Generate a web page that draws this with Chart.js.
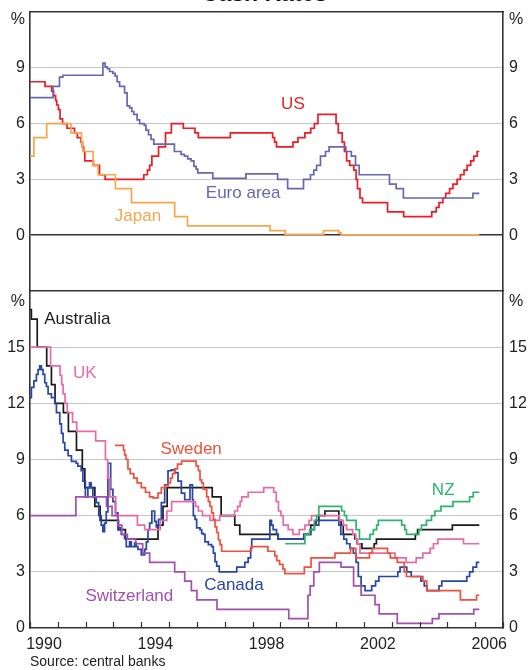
<!DOCTYPE html>
<html>
<head>
<meta charset="utf-8">
<script src="https://cdn.jsdelivr.net/npm/chart.js@4"></script>
<style>
  body { margin: 0; background: #fff; }
  #wrap { position: relative; width: 529px; height: 670px; overflow: hidden; background: #fff; font-family: "Liberation Sans", Arial, sans-serif; }
  canvas { position: absolute; left: 0; }
  .title { position: absolute; left: 0; width: 529px; top: -18px; text-align: center; font-weight: bold; font-size: 23px; line-height: 23px; color: #111; }
  .source { position: absolute; left: 30px; top: 654px; font-size: 14px; line-height: 14px; color: #222; }
</style>
</head>
<body>
<div id="wrap">
  <div class="title">Cash Rates</div>
  <canvas id="topChart" width="529" height="291" style="top:0"></canvas>
  <canvas id="bottomChart" width="529" height="385" style="top:285px"></canvas>
  <div class="source">Source: central banks</div>
</div>
<script>
// Policy rate change points: decimal year when the new rate starts, rate in %
const usDates = [1990.0, 1990.54, 1990.78, 1990.85, 1990.92, 1990.96, 1991.02, 1991.08, 1991.17, 1991.33, 1991.6, 1991.7, 1991.83, 1991.88, 1991.93, 1991.97, 1992.28, 1992.5, 1992.7, 1994.09, 1994.22, 1994.3, 1994.38, 1994.62, 1994.87, 1995.08, 1995.51, 1995.93, 1996.05, 1997.2, 1998.72, 1998.79, 1998.86, 1999.45, 1999.63, 1999.88, 2000.09, 2000.22, 2000.35, 2001.0, 2001.08, 2001.22, 2001.3, 2001.38, 2001.49, 2001.64, 2001.72, 2001.77, 2001.86, 2001.95, 2002.85, 2003.43, 2004.44, 2004.6, 2004.7, 2004.84, 2004.94, 2005.08, 2005.2, 2005.35, 2005.47, 2005.6, 2005.71, 2005.84, 2005.95, 2006.07, 2006.15];
const usRates = [8.25, 8.0, 7.75, 7.5, 7.25, 7.0, 6.75, 6.25, 6.0, 5.75, 5.5, 5.25, 5.0, 4.75, 4.5, 4.0, 3.75, 3.25, 3.0, 3.25, 3.5, 3.75, 4.25, 4.75, 5.5, 6.0, 5.75, 5.5, 5.25, 5.5, 5.25, 5.0, 4.75, 5.0, 5.25, 5.5, 5.75, 6.0, 6.5, 6.0, 5.5, 5.0, 4.5, 4.0, 3.75, 3.5, 3.0, 2.5, 2.0, 1.75, 1.25, 1.0, 1.25, 1.5, 1.75, 2.0, 2.25, 2.5, 2.75, 3.0, 3.25, 3.5, 3.75, 4.0, 4.25, 4.5, 4.5];

const euroDates = [1990.0, 1990.83, 1991.06, 1991.18, 1992.62, 1992.7, 1992.78, 1992.86, 1992.98, 1993.06, 1993.13, 1993.22, 1993.4, 1993.49, 1993.58, 1993.66, 1993.73, 1993.85, 1993.94, 1994.11, 1994.17, 1994.26, 1994.35, 1994.45, 1995.19, 1995.43, 1995.55, 1995.67, 1995.79, 1995.89, 1995.97, 1996.03, 1996.57, 1997.76, 1998.9, 1999.26, 1999.83, 2000.08, 2000.2, 2000.3, 2000.44, 2000.62, 2000.75, 2001.35, 2001.55, 2001.7, 2001.83, 2002.92, 2003.16, 2003.42, 2005.92, 2006.15];
const euroRates = [7.4, 8.0, 8.5, 8.6, 9.25, 9.05, 8.95, 8.8, 8.7, 8.55, 8.25, 8.0, 7.65, 6.95, 6.85, 6.65, 6.5, 6.2, 6.0, 5.9, 5.65, 5.4, 5.15, 4.9, 4.5, 4.35, 4.25, 4.1, 4.0, 3.7, 3.55, 3.35, 3.05, 3.3, 3.0, 2.5, 3.0, 3.25, 3.5, 3.75, 4.25, 4.5, 4.75, 4.5, 4.25, 3.75, 3.25, 2.75, 2.5, 2.0, 2.25, 2.25];

const japanDates = [1990.0, 1990.14, 1990.6, 1991.47, 1991.85, 1991.9, 1992.27, 1992.45, 1993.07, 1993.65, 1995.2, 1995.66, 1998.63, 1999.17, 2000.55, 2001.1, 2001.18, 2006.15];
const japanRates = [4.25, 5.25, 6.0, 5.5, 5.0, 4.5, 3.75, 3.25, 2.5, 1.75, 1.0, 0.5, 0.25, 0.04, 0.25, 0.12, 0.02, 0.02];

const ausDates = [1990.0, 1990.05, 1990.26, 1990.6, 1990.77, 1990.9, 1991.2, 1991.38, 1991.67, 1991.88, 1991.97, 1992.33, 1992.52, 1993.18, 1993.43, 1994.6, 1994.78, 1994.93, 1996.55, 1996.87, 1997.36, 1997.54, 1998.92, 1999.84, 2000.09, 2000.28, 2000.38, 2000.6, 2001.1, 2001.18, 2001.26, 2001.68, 2001.76, 2001.93, 2002.37, 2002.45, 2003.85, 2003.93, 2005.18, 2006.15];
const ausRates = [17.0, 16.5, 15.0, 14.0, 13.0, 12.0, 11.5, 10.5, 9.5, 8.5, 7.5, 6.5, 5.75, 5.25, 4.75, 5.5, 6.5, 7.5, 7.0, 6.0, 5.5, 5.0, 4.75, 5.0, 5.5, 5.75, 6.0, 6.25, 5.75, 5.5, 5.0, 4.75, 4.5, 4.25, 4.5, 4.75, 5.0, 5.25, 5.5, 5.5];

const ukDates = [1990.0, 1990.74, 1991.08, 1991.14, 1991.19, 1991.26, 1991.34, 1991.53, 1991.68, 1992.36, 1992.71, 1992.79, 1992.87, 1993.08, 1993.86, 1994.12, 1994.68, 1994.92, 1995.09, 1995.95, 1996.05, 1996.2, 1996.47, 1996.82, 1997.35, 1997.46, 1997.55, 1997.61, 1997.84, 1998.4, 1998.76, 1998.85, 1998.93, 1999.02, 1999.1, 1999.28, 1999.45, 1999.68, 1999.88, 2000.03, 2000.12, 2001.12, 2001.26, 2001.38, 2001.6, 2001.71, 2001.77, 2001.86, 2003.12, 2003.52, 2003.88, 2004.12, 2004.38, 2004.5, 2004.66, 2005.58, 2006.15];
const ukRates = [15.0, 14.0, 13.5, 13.0, 12.5, 12.0, 11.5, 11.0, 10.5, 10.0, 9.0, 8.0, 7.0, 6.0, 5.5, 5.25, 5.75, 6.25, 6.75, 6.5, 6.25, 6.0, 5.75, 6.0, 6.25, 6.5, 6.75, 7.0, 7.25, 7.5, 7.25, 6.75, 6.25, 6.0, 5.5, 5.25, 5.0, 5.25, 5.5, 5.75, 6.0, 5.75, 5.5, 5.25, 5.0, 4.75, 4.5, 4.0, 3.75, 3.5, 3.75, 4.0, 4.25, 4.5, 4.75, 4.5, 4.5];

const swedenDates = [1993.05, 1993.36, 1993.4, 1993.45, 1993.52, 1993.6, 1993.73, 1993.85, 1994.0, 1994.15, 1994.3, 1994.42, 1994.6, 1994.72, 1994.85, 1994.97, 1995.05, 1995.12, 1995.2, 1995.3, 1995.45, 1995.97, 1996.05, 1996.11, 1996.17, 1996.23, 1996.35, 1996.41, 1996.47, 1996.53, 1996.59, 1996.65, 1996.71, 1996.77, 1996.83, 1996.89, 1997.95, 1998.55, 1998.8, 1998.87, 1998.97, 1999.09, 1999.16, 1999.86, 2000.1, 2000.96, 2001.52, 2001.71, 2002.2, 2002.3, 2002.85, 2002.95, 2003.2, 2003.45, 2003.53, 2004.12, 2004.26, 2005.47, 2006.05, 2006.15];
const swedenRates = [9.75, 9.5, 9.25, 9.0, 8.5, 8.25, 8.0, 7.75, 7.5, 7.25, 7.0, 6.95, 7.2, 7.5, 7.6, 7.75, 8.0, 8.25, 8.5, 8.75, 8.91, 8.66, 8.41, 7.91, 7.75, 7.4, 7.0, 6.75, 6.5, 6.15, 5.8, 5.4, 5.1, 4.7, 4.45, 4.1, 4.35, 4.1, 3.85, 3.6, 3.4, 3.15, 2.9, 3.25, 3.75, 4.0, 4.25, 3.75, 4.0, 4.25, 4.0, 3.75, 3.5, 3.0, 2.75, 2.5, 2.0, 1.5, 1.75, 1.75];

const canadaDates = [1990.0, 1990.05, 1990.14, 1990.23, 1990.29, 1990.35, 1990.41, 1990.47, 1990.53, 1990.59, 1990.65, 1990.77, 1990.89, 1990.95, 1991.07, 1991.13, 1991.19, 1991.25, 1991.37, 1991.49, 1991.66, 1991.72, 1991.84, 1991.9, 1991.99, 1992.08, 1992.14, 1992.2, 1992.26, 1992.38, 1992.47, 1992.56, 1992.62, 1992.68, 1992.74, 1992.8, 1992.9, 1992.98, 1993.07, 1993.16, 1993.22, 1993.28, 1993.4, 1993.46, 1993.58, 1993.64, 1993.76, 1993.82, 1993.88, 1994.0, 1994.12, 1994.18, 1994.24, 1994.3, 1994.38, 1994.48, 1994.54, 1994.62, 1994.72, 1994.84, 1994.96, 1995.08, 1995.2, 1995.32, 1995.44, 1995.56, 1995.75, 1995.84, 1995.87, 1995.93, 1995.99, 1996.11, 1996.17, 1996.23, 1996.29, 1996.41, 1996.53, 1996.59, 1996.65, 1996.71, 1996.8, 1997.43, 1997.72, 1997.84, 1997.93, 1997.97, 1998.62, 1998.68, 1998.74, 1998.86, 1998.92, 1999.85, 2000.08, 2000.22, 2000.38, 2001.1, 2001.17, 2001.28, 2001.38, 2001.5, 2001.62, 2001.72, 2001.8, 2001.9, 2002.04, 2002.28, 2002.42, 2002.54, 2003.22, 2003.3, 2003.54, 2003.7, 2004.05, 2004.17, 2004.27, 2004.7, 2004.8, 2005.7, 2005.8, 2005.92, 2006.05, 2006.15];
const canadaRates = [12.3, 12.85, 13.2, 13.55, 13.8, 14.0, 13.8, 13.55, 13.1, 12.9, 12.5, 12.3, 12.0, 11.5, 10.9, 10.4, 9.9, 9.5, 9.2, 8.9, 8.8, 8.65, 8.4, 7.85, 7.0, 7.5, 7.75, 7.5, 7.0, 6.7, 6.0, 5.5, 5.15, 5.6, 6.2, 8.8, 7.4, 6.75, 6.15, 5.25, 5.35, 5.0, 4.8, 4.35, 4.6, 4.35, 4.55, 4.35, 4.2, 3.9, 4.2, 4.6, 5.25, 5.6, 6.25, 5.7, 5.4, 5.8, 6.7, 7.65, 8.4, 8.45, 8.3, 7.85, 7.2, 6.85, 7.65, 6.85, 6.0, 5.8, 5.35, 5.25, 5.05, 5.0, 4.6, 4.45, 4.35, 4.0, 3.55, 3.3, 3.0, 3.25, 3.5, 3.75, 4.25, 4.75, 5.75, 5.5, 5.25, 5.0, 4.75, 5.0, 5.25, 5.5, 5.75, 5.5, 5.0, 4.75, 4.5, 4.25, 4.0, 3.5, 2.75, 2.25, 2.0, 2.25, 2.5, 2.75, 3.0, 3.25, 3.0, 2.75, 2.5, 2.25, 2.0, 2.25, 2.5, 2.75, 3.0, 3.25, 3.5, 3.5];

const swissDates = [1990.0, 1991.65, 1992.75, 1992.95, 1993.15, 1993.3, 1993.5, 1993.8, 1994.05, 1994.3, 1995.2, 1995.56, 1995.8, 1996.0, 1996.72, 1999.3, 1999.99, 2000.07, 2000.2, 2000.4, 2001.18, 2001.63, 2001.9, 2002.4, 2002.55, 2003.2, 2004.46, 2004.7, 2005.95, 2006.15];
const swissRates = [6.0, 7.0, 6.5, 6.0, 5.5, 5.0, 4.75, 4.5, 4.0, 3.5, 3.0, 2.5, 2.0, 1.5, 1.0, 0.5, 1.75, 2.25, 3.0, 3.5, 3.25, 2.25, 1.75, 1.25, 0.75, 0.25, 0.5, 0.75, 1.0, 1.0];

const nzDates = [1999.17, 1999.88, 2000.05, 2000.22, 2000.3, 2000.38, 2001.2, 2001.3, 2001.38, 2001.72, 2001.84, 2002.22, 2002.34, 2002.46, 2002.52, 2003.36, 2003.47, 2003.53, 2003.98, 2004.07, 2004.25, 2004.43, 2004.55, 2004.77, 2005.2, 2005.8, 2005.93, 2006.15];
const nzRates = [4.5, 5.0, 5.25, 5.75, 6.0, 6.5, 6.25, 6.0, 5.75, 5.25, 4.75, 5.0, 5.25, 5.5, 5.75, 5.5, 5.25, 5.0, 5.25, 5.5, 5.75, 6.0, 6.25, 6.5, 6.75, 7.0, 7.25, 7.25];

// tick values; the top one carries the "%" label
const topYTicks = [0, 3, 6, 9, 11.57];
const bottomYTicks = [0, 3, 6, 9, 12, 15, 17.45];
const yearLabels = [1990, 1994, 1998, 2002, 2006];

const FONT = '"Liberation Sans", Arial, sans-serif';
const FRAME = '#333333';
const GRID = '#c5c9cf';

function points(dates, rates) {
    return dates.map((x, i) => ({ x: x, y: rates[i] }));
}

function series(dates, rates, color) {
    return {
        data: points(dates, rates),
        borderColor: color,
        borderWidth: 1.7,
        pointRadius: 0,
        stepped: 'before',
        fill: false
    };
}

// Writes the series names inside the plot at data coordinates
const seriesLabels = {
    id: 'seriesLabels',
    afterDatasetsDraw(chart, args, opts) {
        const ctx = chart.ctx;
        const xs = chart.scales.x, ys = chart.scales.y;
        ctx.save();
        ctx.font = '17px ' + FONT;
        ctx.textAlign = 'center';
        ctx.textBaseline = 'alphabetic';
        opts.items.forEach(item => {
            ctx.fillStyle = item.color;
            ctx.fillText(item.text, xs.getPixelForValue(item.x), ys.getPixelForValue(item.y));
        });
        ctx.restore();
    }
};

// Short year ticks pointing up into the plot from the bottom axis
const innerTicks = {
    id: 'innerTicks',
    afterDraw(chart) {
        const xs = chart.scales.x;
        if (xs.options.position !== 'bottom') return;
        const ctx = chart.ctx;
        const bottom = chart.chartArea.bottom;
        ctx.save();
        ctx.strokeStyle = FRAME;
        ctx.lineWidth = 1.2;
        ctx.beginPath();
        xs.ticks.forEach(t => {
            const px = Math.round(xs.getPixelForValue(t.value)) + 0.5;
            ctx.moveTo(px, bottom);
            ctx.lineTo(px, bottom - 6);
        });
        ctx.stroke();
        ctx.restore();
    }
};

function noPadding(scale) {
    scale.paddingTop = 0;
    scale.paddingBottom = 0;
    scale.paddingLeft = 0;
    scale.paddingRight = 0;
}

function yAxis(position, tickValues, width, gridColor) {
    return {
        position: position,
        min: 0,
        max: 18,
        afterBuildTicks: scale => { scale.ticks = tickValues.map(v => ({ value: v })); },
        afterFit: scale => { scale.width = width; noPadding(scale); },
        ticks: {
            padding: position === 'left' ? 5 : 6,
            color: '#222',
            font: { family: FONT, size: 16 },
            callback: v => (v > 10.5 && v % 3 !== 0) ? '%' : String(v)
        },
        grid: {
            display: position === 'left',
            drawTicks: false,
            color: gridColor,
            lineWidth: ctx => (ctx.tick && ctx.tick.value === 0) ? 1.6 : 1
        },
        border: { display: true, color: FRAME, width: 1.6 }
    };
}

const topColors = { us: '#ed1c24', euro: '#6767b3', japan: '#f8a54b' };

new Chart(document.getElementById('topChart'), {
    type: 'line',
    data: {
        datasets: [
            series(japanDates, japanRates, topColors.japan),
            series(euroDates, euroRates, topColors.euro),
            series(usDates, usRates, topColors.us)
        ]
    },
    options: {
        responsive: false,
        animation: false,
        devicePixelRatio: 1,
        layout: { padding: 0 },
        plugins: {
            legend: { display: false },
            tooltip: { enabled: false },
            seriesLabels: {
                items: [
                    { text: 'US', x: 1999.45, y: 6.77, color: topColors.us },
                    { text: 'Euro area', x: 1997.66, y: 1.99, color: topColors.euro },
                    { text: 'Japan', x: 1993.88, y: 0.75, color: topColors.japan }
                ]
            }
        },
        scales: {
            x: {
                type: 'linear',
                position: 'top',
                min: 1990,
                max: 2007,
                afterFit: scale => { scale.height = 12; noPadding(scale); },
                ticks: { display: false },
                grid: { display: false, drawTicks: false },
                border: { display: true, color: FRAME, width: 1.6 }
            },
            y: Object.assign(yAxis('left', topYTicks, 30, ctx => {
                const v = ctx.tick ? ctx.tick.value : null;
                if (v === 0) return FRAME;
                if (v > 10) return 'rgba(0,0,0,0)';
                return GRID;
            }), { min: -3, max: 12 }),
            yRight: Object.assign(yAxis('right', topYTicks, 26, GRID), { min: -3, max: 12 })
        }
    },
    plugins: [seriesLabels]
});

const bottomColors = {
    aus: '#1a1a1a', uk: '#e96aa7', sweden: '#f0503c', canada: '#2846a8',
    swiss: '#a24fb0', nz: '#2db56c'
};

new Chart(document.getElementById('bottomChart'), {
    type: 'line',
    data: {
        datasets: [
            series(swissDates, swissRates, bottomColors.swiss),
            series(nzDates, nzRates, bottomColors.nz),
            series(swedenDates, swedenRates, bottomColors.sweden),
            series(ukDates, ukRates, bottomColors.uk),
            series(canadaDates, canadaRates, bottomColors.canada),
            series(ausDates, ausRates, bottomColors.aus)
        ]
    },
    options: {
        responsive: false,
        animation: false,
        devicePixelRatio: 1,
        layout: { padding: 0 },
        plugins: {
            legend: { display: false },
            tooltip: { enabled: false },
            seriesLabels: {
                items: [
                    { text: 'Australia', x: 1991.7, y: 16.26, color: bottomColors.aus },
                    { text: 'UK', x: 1991.97, y: 13.37, color: bottomColors.uk },
                    { text: 'Sweden', x: 1995.79, y: 9.3, color: bottomColors.sweden },
                    { text: 'NZ', x: 2004.85, y: 7.11, color: bottomColors.nz },
                    { text: 'Canada', x: 1997.33, y: 2.03, color: bottomColors.canada },
                    { text: 'Switzerland', x: 1993.57, y: 1.42, color: bottomColors.swiss }
                ]
            }
        },
        scales: {
            x: {
                type: 'linear',
                position: 'bottom',
                min: 1990,
                max: 2007,
                afterBuildTicks: scale => {
                    const t = [];
                    for (let yr = 1990; yr <= 2007; yr++) t.push({ value: yr });
                    scale.ticks = t;
                },
                afterFit: scale => { scale.height = 42; noPadding(scale); },
                ticks: {
                    autoSkip: false,
                    maxRotation: 0,
                    padding: 7,
                    labelOffset: 14,
                    color: '#222',
                    font: { family: FONT, size: 16 },
                    callback: v => yearLabels.includes(v) ? String(v) : ''
                },
                grid: { display: false, drawTicks: false },
                border: { display: true, color: FRAME, width: 1.6 }
            },
            xTop: {
                type: 'linear',
                position: 'top',
                min: 1990,
                max: 2007,
                afterFit: scale => { scale.height = 6; noPadding(scale); },
                ticks: { display: false },
                grid: { display: false, drawTicks: false },
                border: { display: true, color: FRAME, width: 1.6 }
            },
            y: yAxis('left', bottomYTicks, 30, ctx => {
                const v = ctx.tick ? ctx.tick.value : null;
                if (v === 0 || v > 16) return 'rgba(0,0,0,0)';
                return GRID;
            }),
            yRight: yAxis('right', bottomYTicks, 26, GRID)
        }
    },
    plugins: [seriesLabels, innerTicks]
});
</script>
</body>
</html>
